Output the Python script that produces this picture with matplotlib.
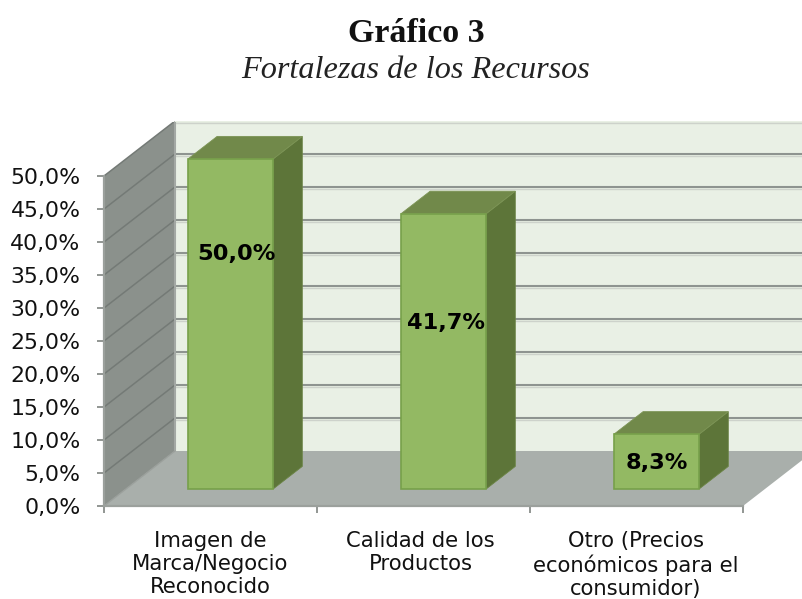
import matplotlib
matplotlib.use("Agg")
import matplotlib.pyplot as plt
from matplotlib.patches import Polygon

categories = ["Imagen de\nMarca/Negocio\nReconocido", "Calidad de los\nProductos",
              "Otro (Precios\neconómicos para el\nconsumidor)"]
values = [50.0, 41.7, 8.3]
value_labels = ["50,0%", "41,7%", "8,3%"]
y_ticks = [0, 5, 10, 15, 20, 25, 30, 35, 40, 45, 50]
y_tick_labels = ["0,0%", "5,0%", "10,0%", "15,0%", "20,0%", "25,0%", "30,0%", "35,0%", "40,0%", "45,0%", "50,0%"]
title = "Gráfico 3"
subtitle = "Fortalezas de los Recursos"

W, H = 802, 599
X0, X1, Y0, YT = 104, 802, 506, 122
PX_CAT, PX_PCT = 213.0, 6.6
DX, DY = 71 / PX_CAT, 55 / PX_PCT

fig = plt.figure(figsize=(W / 100, H / 100), dpi=100)
ax = fig.add_axes([X0 / W, 1 - Y0 / H, (X1 - X0) / W, (Y0 - YT) / H])
ax.set_xlim(0, (X1 - X0) / PX_CAT)
ax.set_ylim(0, (Y0 - YT) / PX_PCT)
ax.patch.set_visible(False)

def P(x, y, d):
    return (x + d * DX, y + d * DY)

def face(pts, fc, ec="none", lw=0, z=1):
    ax.add_patch(Polygon([P(*p) for p in pts], closed=True, fc=fc, ec=ec, lw=lw, zorder=z, clip_on=False))

xmax, ymax = 3.0, 50.0
GRID = "#8E9490"
face([(0, 0, 1), (xmax, 0, 1), (xmax, ymax, 1), (0, ymax, 1)], "#E9F0E5")
face([(0, 0, 0), (0, ymax, 0), (0, ymax, 1), (0, 0, 1)], "#8B918C")
face([(0, 0, 0), (xmax, 0, 0), (xmax, 0, 1), (0, 0, 1)], "#A9AFAB", z=2)

for t in y_ticks:
    a, b, c = P(0, t, 0), P(0, t, 1), P(xmax, t, 1)
    if t > 0:
        ax.plot([a[0], b[0]], [a[1], b[1]], color="#747A76", lw=1.1, zorder=1.5)
        ax.plot([b[0], c[0]], [b[1] - 0.3, c[1] - 0.3], color="#CDD2CB", lw=1.0, zorder=1.4)
        ax.plot([b[0], c[0]], [b[1], c[1]], color=GRID, lw=1.5, zorder=1.5)
    else:
        ax.plot([a[0], b[0]], [a[1], b[1]], color="#9BA09C", lw=1.0, zorder=2.5)
ax.plot([P(0, 0, 1)[0]] * 2, [P(0, 0, 1)[1], P(0, ymax, 1)[1]], color="#A3A8A4", lw=1.5, zorder=1.6)

bw, d0, d1, shift = 0.40, 0.31, 0.72, -0.009
for i, v in enumerate(values):
    c = i + 0.5 + shift
    l, r = c - bw / 2, c + bw / 2
    face([(r, 0, d0), (r, 0, d1), (r, v, d1), (r, v, d0)], "#5D7539", "#6B8445", 0.6, 3)
    face([(l, v, d0), (r, v, d0), (r, v, d1), (l, v, d1)], "#71894A", "#7C9455", 0.6, 3)
    face([(l, 0, d0), (r, 0, d0), (r, v, d0), (l, v, d0)], "#93B963", "#77A04A", 1.2, 4)

label_y = [35.6, 25.2, 3.9]
label_dx = [4, 0, -2]
for i, v in enumerate(values):
    xp, yp = P(i + 0.5, label_y[i], d0)
    ax.annotate(value_labels[i], xy=(xp, yp), xytext=(label_dx[i] * 0.72, 0), textcoords="offset points",
                ha="center", va="center", fontsize=16.2, fontweight="bold", color="black",
                zorder=6, annotation_clip=False)

ax.set_yticks(y_ticks, y_tick_labels)
ax.set_xticks([0, 1, 2, 3], ["", "", "", ""])
ax.tick_params(axis="y", length=5, width=1.2, color="#7F8480", labelsize=15.8, labelcolor="#111111", pad=12)
ax.tick_params(axis="x", length=5, width=1.2, color="#7F8480", pad=0)
for s in ("top", "right"):
    ax.spines[s].set_visible(False)
ax.spines["left"].set_bounds(0, ymax)
ax.spines["bottom"].set_bounds(0, xmax)
for s in ("left", "bottom"):
    ax.spines[s].set_color("#9BA09C")
    ax.spines[s].set_linewidth(1.6)
    ax.spines[s].set_zorder(3)

cat_dx = [0, -3, -1]
for i, lab in enumerate(categories):
    ax.annotate(lab, xy=(i + 0.5, 0), xytext=(cat_dx[i] * 0.72, -18), textcoords="offset points", ha="center", va="top",
                fontsize=15.2, color="#111111", linespacing=1.2, annotation_clip=False)

fig.text(416 / W, 1 - 34 / H, title, ha="center", va="center", family="Liberation Serif",
         fontweight="bold", fontsize=24.5, color="#111111")
fig.text(416 / W, 1 - 70 / H, subtitle, ha="center", va="center", family="Liberation Serif",
         fontstyle="italic", fontsize=23.2, color="#222222")
fig.savefig("out.png", dpi=100)
